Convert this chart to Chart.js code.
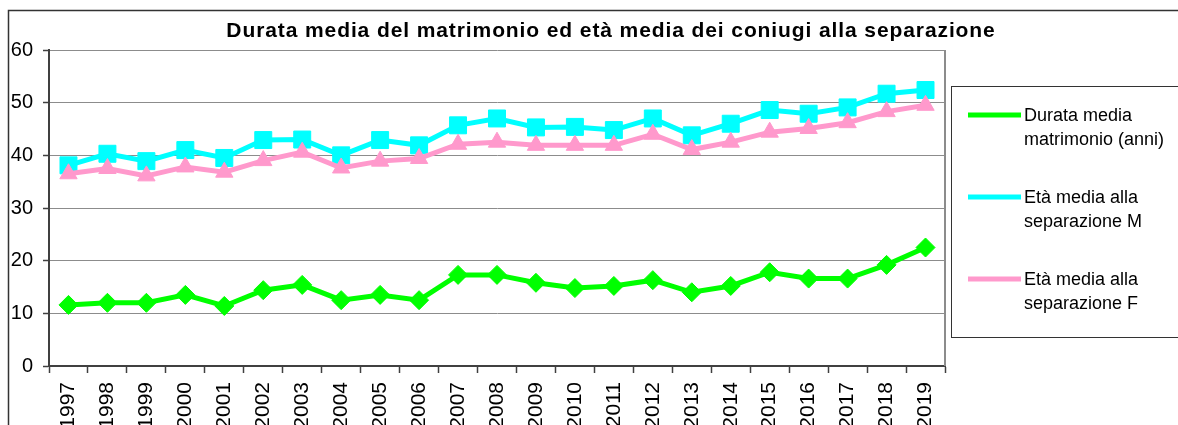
<!DOCTYPE html>
<html lang="it">
<head>
    <meta charset="UTF-8">
    <title>Durata media del matrimonio</title>
    <style>
        * {
            margin: 0;
            padding: 0;
            box-sizing: border-box;
        }

        body {
            background: #fff;
        }

        .chart-wrap {
            position: relative;
            width: 1178px;
            height: 425px;
        }
    </style>
    <script src="https://cdn.jsdelivr.net/npm/chart.js"></script>
</head>
<body>
    <div class="chart-wrap">
        <canvas id="separazioniChart"></canvas>
    </div>
    <script>
        // Serie storiche 1997-2019
        const years = ['1997', '1998', '1999', '2000', '2001', '2002', '2003', '2004', '2005', '2006', '2007', '2008',
            '2009', '2010', '2011', '2012', '2013', '2014', '2015', '2016', '2017', '2018', '2019'];
        const durataMedia = [11.6, 12.0, 12.0, 13.5, 11.4, 14.4, 15.4, 12.5, 13.5, 12.5, 17.3, 17.3,
            15.8, 14.8, 15.2, 16.3, 14.0, 15.2, 17.8, 16.6, 16.6, 19.2, 22.5];
        const etaMediaM = [38.1, 40.3, 38.9, 41.0, 39.5, 42.9, 43.0, 40.0, 42.9, 41.9, 45.7, 47.0,
            45.3, 45.4, 44.8, 47.0, 43.8, 46.0, 48.6, 47.9, 49.1, 51.7, 52.4];
        const etaMediaF = [36.5, 37.5, 36.1, 37.8, 36.8, 39.0, 40.6, 37.6, 38.9, 39.4, 42.1, 42.5,
            41.9, 41.9, 41.9, 44.0, 41.1, 42.5, 44.4, 45.1, 46.2, 48.3, 49.5];
        const yTicks = [0, 10, 20, 30, 40, 50, 60];
        const legendLines = [
            ['Durata media', 'matrimonio (anni)'],
            ['Età media alla', 'separazione M'],
            ['Età media alla', 'separazione F']
        ];
        const chartTitle = 'Durata media del matrimonio ed età media dei coniugi alla separazione';

        const FONT = "'Liberation Sans', Arial, sans-serif";
        const DARK = '#404040';
        const GRID = '#8c8c8c';

        Chart.defaults.font.family = FONT;
        Chart.defaults.color = '#000';

        function series(label, data, color, style, radius, order) {
            return {
                label: label.join(' '),
                data: data,
                borderColor: color,
                backgroundColor: color,
                borderWidth: 5,
                pointStyle: style,
                pointRadius: radius,
                pointBackgroundColor: color,
                pointBorderColor: color,
                pointBorderWidth: 1,
                tension: 0,
                order: order
            };
        }

        // Frame, title, plot border and boxed legend on the right
        const excelFrame = {
            id: 'excelFrame',
            beforeDraw(chart) {
                const ctx = chart.ctx;
                ctx.save();
                ctx.fillStyle = '#fff';
                ctx.fillRect(0, 0, chart.width, chart.height);
                ctx.restore();
            },
            afterDraw(chart) {
                const ctx = chart.ctx;
                const area = chart.chartArea;
                ctx.save();

                // outer frame
                ctx.strokeStyle = '#333';
                ctx.lineWidth = 1.5;
                ctx.beginPath();
                ctx.moveTo(8.5, chart.height + 2);
                ctx.lineTo(8.5, 10.5);
                ctx.lineTo(chart.width + 2, 10.5);
                ctx.stroke();

                // right edge of plot area
                ctx.strokeStyle = GRID;
                ctx.lineWidth = 2;
                ctx.beginPath();
                ctx.moveTo(area.right, area.top);
                ctx.lineTo(area.right, area.bottom);
                ctx.stroke();

                // title (slightly spaced out)
                ctx.fillStyle = '#000';
                ctx.font = 'bold 21px ' + FONT;
                ctx.letterSpacing = '0.9px';
                ctx.textAlign = 'center';
                ctx.textBaseline = 'alphabetic';
                ctx.fillText(chartTitle, 611, 37);
                ctx.letterSpacing = '0px';

                // legend box
                ctx.strokeStyle = '#333';
                ctx.lineWidth = 1;
                ctx.strokeRect(951.5, 86.5, 300, 251);

                ctx.font = '18px ' + FONT;
                ctx.textAlign = 'left';
                ctx.textBaseline = 'middle';
                chart.data.datasets.forEach((ds, i) => {
                    const y = 115 + i * 82;
                    ctx.strokeStyle = ds.borderColor;
                    ctx.lineWidth = 5;
                    ctx.beginPath();
                    ctx.moveTo(968, y);
                    ctx.lineTo(1021, y);
                    ctx.stroke();
                    ctx.fillStyle = ds.pointBackgroundColor;
                    ctx.strokeStyle = ds.pointBorderColor;
                    ctx.lineWidth = 1;
                    Chart.helpers.drawPoint(ctx, {
                        pointStyle: ds.pointStyle,
                        rotation: 0,
                        borderWidth: 1
                    }, 994, y, ds.pointRadius * 0.72);
                    ctx.fillStyle = '#000';
                    legendLines[i].forEach((line, j) => {
                        ctx.fillText(line, 1024, y + 1 + j * 24);
                    });
                });

                ctx.restore();
            }
        };

        const ctx = document.getElementById('separazioniChart').getContext('2d');
        new Chart(ctx, {
            type: 'line',
            data: {
                labels: years,
                datasets: [
                    series(legendLines[0], durataMedia, '#00ff00', 'rectRot', 9.5, 2),
                    series(legendLines[1], etaMediaM, '#00ffff', 'rect', 12, 1),
                    series(legendLines[2], etaMediaF, '#ff99cc', 'triangle', 10, 0)
                ]
            },
            options: {
                responsive: true,
                maintainAspectRatio: false,
                animation: false,
                layout: {
                    padding: { top: 50, right: 233, left: 0, bottom: 0 }
                },
                plugins: {
                    legend: { display: false },
                    title: { display: false },
                    tooltip: { enabled: false }
                },
                scales: {
                    x: {
                        offset: true,
                        grid: {
                            offset: true,
                            drawOnChartArea: false,
                            tickLength: 7,
                            tickColor: DARK,
                            tickWidth: 1.5
                        },
                        border: { color: DARK, width: 2 },
                        ticks: {
                            autoSkip: false,
                            minRotation: 90,
                            maxRotation: 90,
                            padding: 9,
                            font: { size: 21 }
                        },
                        afterFit(scale) {
                            scale.height = 59;
                        }
                    },
                    y: {
                        min: 0,
                        max: 60,
                        afterBuildTicks(scale) {
                            scale.ticks = yTicks.map(v => ({ value: v }));
                        },
                        grid: {
                            color: GRID,
                            lineWidth: 1,
                            tickLength: 6,
                            tickColor: DARK,
                            tickWidth: 1.5
                        },
                        border: { color: DARK, width: 2 },
                        ticks: {
                            padding: 10,
                            font: { size: 20 }
                        },
                        afterFit(scale) {
                            scale.width = 49;
                        }
                    }
                }
            },
            plugins: [excelFrame]
        });
    </script>
</body>
</html>
